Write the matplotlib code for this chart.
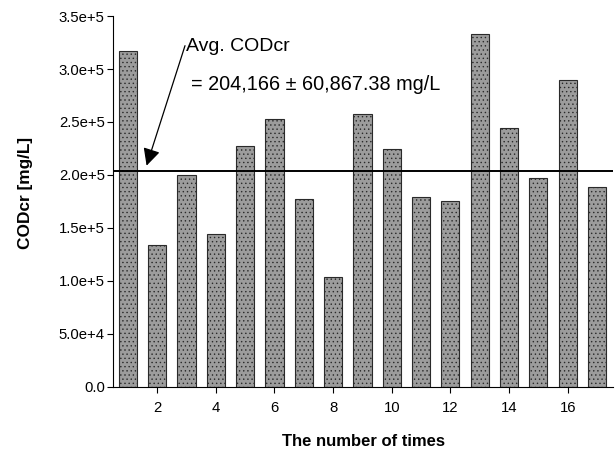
"""CODcr measurements per sampling, with the average line."""

import matplotlib
matplotlib.use("Agg")
import matplotlib.pyplot as plt
from matplotlib.ticker import FuncFormatter

plt.rcParams["font.family"] = ["Liberation Sans", "DejaVu Sans"]
plt.rcParams["hatch.linewidth"] = 0.5

times = list(range(1, 18))
codcr = [317000, 133700, 200000, 144300, 227600, 252800, 177400, 103500, 258000,
         224200, 179000, 175200, 333300, 244000, 196900, 289300, 189000]
avg_codcr = 204166
std_codcr = 60867.38
x_ticks = [2, 4, 6, 8, 10, 12, 14, 16]
y_ticks = [0, 5e4, 1e5, 1.5e5, 2e5, 2.5e5, 3e5, 3.5e5]


def sci_fmt(v, _pos):
    if v == 0:
        return "0.0"
    mant, exp = f"{v:.1e}".split("e")
    return f"{mant}e{exp[0]}{int(exp[1:])}"


fig = plt.figure(figsize=(6.15, 4.51), dpi=100)
ax = fig.add_axes([0.184, 0.142, 0.813, 0.8225])

ax.bar(times, codcr, width=0.62, color="#9c9c9c", edgecolor="#2a2a2a",
       linewidth=0.8, hatch="....")
ax.axhline(avg_codcr, color="black", linewidth=1.4)

ax.annotate("", xy=(1.64, 2.088e5), xytext=(2.95, 3.22e5),
            arrowprops=dict(arrowstyle="-|>", color="black", lw=0.9,
                            mutation_scale=26, shrinkA=0, shrinkB=0))
ax.text(2.98, 3.21e5, "Avg. CODcr", fontsize=14, ha="left", va="center")
ax.text(3.17, 2.85e5, f"= {avg_codcr:,} \u00b1 {std_codcr:,.2f} mg/L",
        fontsize=14.3, ha="left", va="center")

ax.set_xlim(0.5, 17.55)
ax.set_ylim(0, 3.5e5)
ax.set_xticks(x_ticks)
ax.set_yticks(y_ticks)
ax.yaxis.set_major_formatter(FuncFormatter(sci_fmt))
ax.tick_params(labelsize=10.7, length=4, width=0.8)
ax.tick_params(axis="x", pad=6)
ax.tick_params(axis="y", pad=2)

for side in ("top", "right"):
    ax.spines[side].set_visible(False)

ax.set_xlabel("The number of times", fontsize=12, fontweight="bold", labelpad=14)
ax.set_ylabel("CODcr [mg/L]", fontsize=12.4, fontweight="bold",
              va="center", ha="center")
ax.yaxis.set_label_coords(-0.176, 0.523)

fig.savefig("out.png", dpi=100)
